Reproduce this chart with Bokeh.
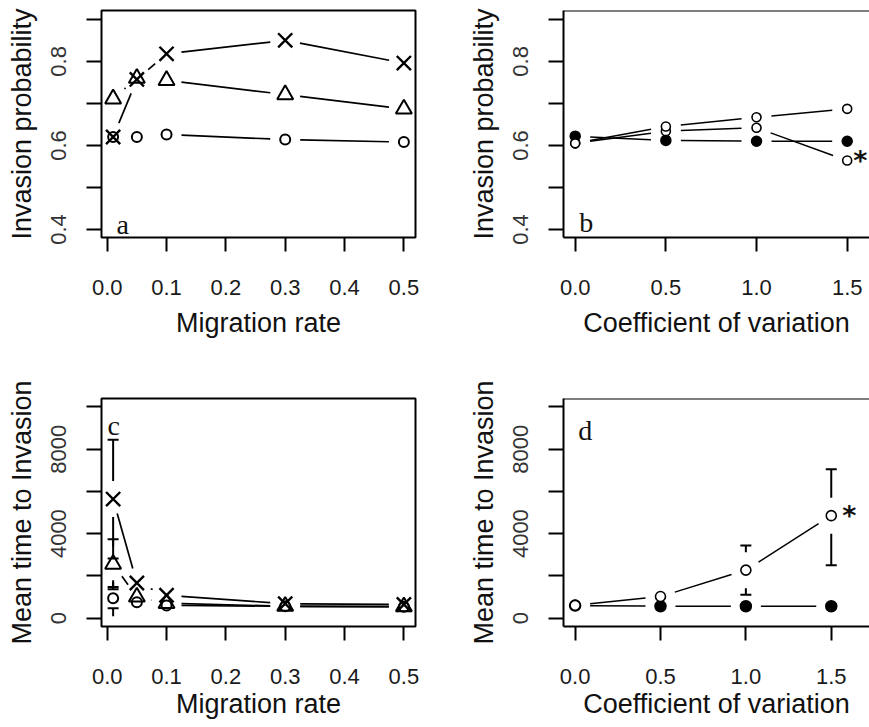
import math
from bokeh.plotting import figure
from bokeh.layouts import gridplot
from bokeh.models import FixedTicker, Span, Label, Range1d, PrintfTickFormatter
from bokeh.embed import file_html
from bokeh.resources import INLINE

# ---------------- data ----------------
mig = [0.01, 0.05, 0.1, 0.3, 0.5]
cv = [0.0, 0.5, 1.0, 1.5]

# panel a: invasion probability vs migration rate
a_cross = [0.620, 0.757, 0.818, 0.850, 0.796]
a_tri = [0.711, 0.760, 0.755, 0.721, 0.687]
a_circ = [0.620, 0.620, 0.626, 0.614, 0.608]

# panel b: invasion probability vs coefficient of variation
b_open_up = [0.605, 0.645, 0.667, 0.687]
b_open_low = [0.605, 0.634, 0.642, 0.564]
b_fill = [0.622, 0.612, 0.610, 0.610]

# panel c: mean time to invasion vs migration rate
NaN = float("nan")
c_cross = [5635, 1660, 1080, 680, 640]
c_cross_lo = [2820, NaN, NaN, NaN, NaN]
c_cross_hi = [8450, NaN, NaN, NaN, NaN]
c_tri = [2550, 1000, 700, 560, 540]
c_tri_lo = [1370, NaN, NaN, NaN, NaN]
c_tri_hi = [3730, NaN, NaN, NaN, NaN]
c_circ = [940, 750, 600, 560, 540]
c_circ_lo = [470, NaN, NaN, NaN, NaN]
c_circ_hi = [1475, NaN, NaN, NaN, NaN]

# panel d: mean time to invasion vs coefficient of variation
d_open = [600, 1020, 2270, 4850]
d_open_lo = [NaN, NaN, 1100, 2500]
d_open_hi = [NaN, NaN, 3440, 7050]
d_fill = [590, 560, 560, 560]

ticks_mig = [0.0, 0.1, 0.2, 0.3, 0.4, 0.5]
ticks_cv = [0.0, 0.5, 1.0, 1.5]
ticks_prob = [0.4, 0.5, 0.6, 0.7, 0.8, 0.9]
labels_prob = {0.4: "0.4", 0.5: "", 0.6: "0.6", 0.7: "", 0.8: "0.8", 0.9: ""}
ticks_time = [0, 2000, 4000, 6000, 8000, 10000]
labels_time = {0: "0", 2000: "", 4000: "4000", 6000: "", 8000: "8000", 10000: ""}

SANS = "Liberation Sans"
SERIF = "Liberation Serif"
GAP = 15      # px gap around points on connecting lines (R type="b")
EGAP = 18     # px gap around points on error bars
FRAMES = {}


def make_fig(width, height, left, right, top, bottom, xr, yr, right_open,
             xticks, yticks, ylabels, xtitle, ytitle, xt_standoff):
    p = figure(width=width, height=height, x_range=Range1d(*xr), y_range=Range1d(*yr),
               output_backend="svg", toolbar_location=None,
               min_border_left=left, min_border_right=right,
               min_border_top=top, min_border_bottom=bottom)
    p.grid.visible = False
    p.background_fill_color = "white"
    p.border_fill_color = "white"
    if right_open:
        p.outline_line_color = None
        p.add_layout(Span(location=yr[1], dimension="width", line_color="black", line_width=2))
        axis_line = "black"
    else:
        p.outline_line_color = "black"
        p.outline_line_width = 2
        axis_line = None
    xa = p.xaxis[0]
    ya = p.yaxis[0]
    xa.ticker = FixedTicker(ticks=xticks)
    xa.formatter = PrintfTickFormatter(format="%.1f")
    ya.ticker = FixedTicker(ticks=yticks)
    ya.major_label_overrides = ylabels
    ya.major_label_orientation = "vertical"
    for ax in (xa, ya):
        ax.axis_line_color = axis_line
        ax.axis_line_width = 2
        ax.major_tick_line_width = 2
        ax.major_tick_line_color = "black"
        ax.major_tick_in = 0
        ax.minor_tick_line_color = None
        ax.major_label_text_font = SANS
        ax.major_label_text_font_size = "22px"
        ax.axis_label_text_font = SANS
        ax.axis_label_text_font_size = "27px"
        ax.axis_label_text_font_style = "normal"
        ax.axis_label_text_color = "#111111"
    xa.major_tick_out = 14
    ya.major_tick_out = 15
    xa.major_label_standoff = 28
    ya.major_label_standoff = 20
    xa.major_label_text_color = "#1a1a1a"
    ya.major_label_text_color = "#333333"
    xa.axis_label = xtitle
    ya.axis_label = ytitle
    xa.axis_label_standoff = xt_standoff
    ya.axis_label_standoff = 12
    FRAMES[id(p)] = (width - left - right, height - top - bottom, xr, yr)
    return p


def scales(p):
    fw, fh, xr, yr = FRAMES[id(p)]
    return fw / (xr[1] - xr[0]), fh / (yr[1] - yr[0])


def gap_line(p, xs, ys, width=1.7, dash="solid"):
    sx, sy = scales(p)
    x0, y0, x1, y1 = [], [], [], []
    for i in range(len(xs) - 1):
        ddx = xs[i + 1] - xs[i]
        ddy = ys[i + 1] - ys[i]
        L = math.hypot(ddx * sx, ddy * sy)
        if L <= 2 * GAP:
            continue
        f = GAP / L
        x0.append(xs[i] + ddx * f)
        y0.append(ys[i] + ddy * f)
        x1.append(xs[i + 1] - ddx * f)
        y1.append(ys[i + 1] - ddy * f)
    p.segment(x0, y0, x1, y1, line_color="black", line_width=width, line_dash=dash)


def errbars(p, xs, ys, lo, hi):
    sx, sy = scales(p)
    g = EGAP / sy
    sx0, sy0, sx1, sy1, cx, cy = [], [], [], [], [], []
    for x, y, l, h in zip(xs, ys, lo, hi):
        if not math.isnan(h):
            sx0.append(x); sy0.append(y + g); sx1.append(x); sy1.append(h)
            cx.append(x); cy.append(h)
        if not math.isnan(l):
            sx0.append(x); sy0.append(y - g); sx1.append(x); sy1.append(l)
            cx.append(x); cy.append(l)
    p.segment(sx0, sy0, sx1, sy1, line_color="black", line_width=2)
    p.scatter(cx, cy, marker="dash", size=11, line_color="black", line_width=2)


def panel_label(p, x, y, text):
    p.add_layout(Label(x=x, y=y, text=text, text_font=SERIF, text_font_size="28px",
                       text_color="#111111", text_align="center", text_baseline="alphabetic"))


def star(p, x, y):
    p.add_layout(Label(x=x, y=y, text="*", text_font="DejaVu Sans", text_font_size="27px",
                       text_font_style="bold", text_color="#111111",
                       text_align="center", text_baseline="middle"))


# ---------------- panel a ----------------
pa = make_fig(434, 363, 101, 19, 10, 126, (-0.0096, 0.5196), (0.381, 0.921), False,
              ticks_mig, ticks_prob, labels_prob, "Migration rate", "Invasion probability", 10)
for ys in (a_cross, a_tri, a_circ):
    gap_line(pa, mig, ys)
pa.scatter(mig, a_cross, marker="x", size=20, line_color="black", line_width=2.4)
pa.scatter(mig, a_tri, marker="triangle", size=16, line_color="black", fill_color=None, line_width=2)
pa.scatter(mig, a_circ, marker="circle", size=10, line_color="black", fill_color=None, line_width=2)
panel_label(pa, 0.026, 0.413, "a")

# ---------------- panel b ----------------
pb = make_fig(435, 363, 129, 0, 10, 126, (-0.0645, 1.623), (0.381, 0.921), True,
              ticks_cv, ticks_prob, labels_prob, "Coefficient of variation", "Invasion probability", 10)
for ys in (b_open_up, b_open_low, b_fill):
    gap_line(pb, cv, ys, width=1.5)
pb.scatter(cv, b_fill, marker="circle", size=10, line_color="black", fill_color="black", line_width=1.5)
pb.scatter(cv, b_open_low, marker="circle", size=9, line_color="black", fill_color="white", line_width=1.6)
pb.scatter(cv, b_open_up, marker="circle", size=9, line_color="black", fill_color="white", line_width=1.6)
panel_label(pb, 0.061, 0.416, "b")
star(pb, 1.572, b_open_low[3])

# ---------------- panel c ----------------
pc = make_fig(434, 364, 101, 19, 35, 101, (-0.0096, 0.5196), (-400, 10400), False,
              ticks_mig, ticks_time, labels_time, "Migration rate", "Mean time to Invasion", 2)
for ys in (c_cross, c_tri, c_circ):
    gap_line(pc, mig, ys)
errbars(pc, mig, c_cross, c_cross_lo, c_cross_hi)
errbars(pc, mig, c_tri, c_tri_lo, c_tri_hi)
errbars(pc, mig, c_circ, c_circ_lo, c_circ_hi)
pc.scatter(mig, c_cross, marker="x", size=20, line_color="black", line_width=2.4)
pc.scatter(mig, c_tri, marker="triangle", size=16, line_color="black", fill_color=None, line_width=2)
pc.scatter(mig, c_circ, marker="circle", size=10, line_color="black", fill_color=None, line_width=2)
panel_label(pc, 0.011, 9138, "c")

# ---------------- panel d ----------------
pd_ = make_fig(435, 364, 129, 0, 35, 101, (-0.068, 1.724), (-400, 10400), True,
               ticks_cv, ticks_time, labels_time, "Coefficient of variation", "Mean time to Invasion", 2)
gap_line(pd_, cv, d_open, width=1.5)
gap_line(pd_, cv, d_fill, width=1.5)
errbars(pd_, cv, d_open, d_open_lo, d_open_hi)
pd_.scatter(cv, d_fill, marker="circle", size=11, line_color="black", fill_color="black", line_width=1.5)
pd_.scatter(cv, d_open, marker="circle", size=10, line_color="black", fill_color="white", line_width=1.6)
panel_label(pd_, 0.059, 8900, "d")
star(pd_, 1.606, d_open[3])

grid = gridplot([[pa, pb], [pc, pd_]], toolbar_location=None)
open("out.html", "w").write(file_html(grid, INLINE))
